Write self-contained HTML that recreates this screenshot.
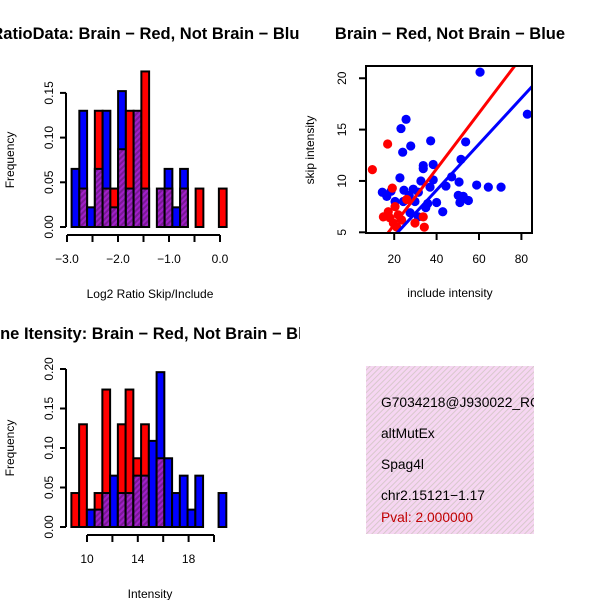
<!DOCTYPE html>
<html><head><meta charset="utf-8"><style>
body{margin:0;background:#fff}
svg{font-family:"Liberation Sans",sans-serif}
</style></head><body>
<svg id="s" width="600" height="600" viewBox="0 0 600 600">
<defs>
<pattern id="ph" width="4" height="4" patternUnits="userSpaceOnUse" patternTransform="rotate(45)">
<rect width="4" height="4" fill="#a020c8"/><rect width="2" height="4" fill="#7a1896"/></pattern>
<pattern id="pk" width="4" height="4" patternUnits="userSpaceOnUse" patternTransform="rotate(45)">
<rect width="4" height="4" fill="#f6d6f2"/><rect width="1" height="4" fill="#d8c8cc"/></pattern>
<clipPath id="leftclip"><rect x="0" y="0" width="300" height="600"/></clipPath>
<clipPath id="infoclip"><rect x="366" y="366" width="168" height="168"/></clipPath>
</defs>
<g id="h1" clip-path="url(#leftclip)"></g>
<g id="h2" clip-path="url(#leftclip)"></g>
<g id="sc"></g>
<g clip-path="url(#infoclip)">
<rect x="366" y="366" width="168" height="168" fill="url(#pk)"/>
<text x="381" y="407" font-size="13.8">G7034218@J930022_RC</text>
<text x="381" y="438" font-size="13.8">altMutEx</text>
<text x="381" y="469" font-size="13.8">Spag4l</text>
<text x="381" y="500" font-size="13.8">chr2.15121−1.17</text>
<text x="381" y="522" font-size="13.8" fill="#c00000">Pval: 2.000000</text>
</g>
</svg>
<script>
// Ratio histogram data
const ratioBinStart = -2.91;
const ratioBinWidth = 0.152;
const ratioBlue = [0.065,0.13,0.022,0.065,0.13,0.022,0.152,0.043,0.13,0.043,0,0.043,0.065,0.022,0.065,0,0,0,0,0];
const ratioRed  = [0,0.043,0,0.13,0.043,0.043,0.087,0.13,0.13,0.174,0,0.043,0.043,0,0.043,0,0.043,0,0,0.043];
const ratioXTicks = [-3.0,-2.5,-2.0,-1.5,-1.0,-0.5,0.0];
const ratioXLabels = ["−3.0","","−2.0","","−1.0","","0.0"];
const ratioYTicks = [0,0.05,0.10,0.15];
const ratioYLabels = ["0.00","0.05","0.10","0.15"];
// Intensity histogram data
const intBinStart = 8.77;
const intBinWidth = 0.61;
const intBlue = [0,0,0.022,0.022,0.043,0.065,0.043,0.043,0.065,0.065,0.109,0.196,0.087,0.043,0.065,0.022,0.065,0,0,0.043];
const intRed  = [0.043,0.13,0,0.043,0.174,0,0.13,0.174,0.087,0.13,0,0.087,0,0,0,0,0,0,0,0];
const intXTicks = [10,12,14,16,18,20];
const intXLabels = ["10","","14","","18",""];
const intYTicks = [0,0.05,0.10,0.15,0.20];
const intYLabels = ["0.00","0.05","0.10","0.15","0.20"];
// Scatter data
const blueX = [60.5,82.8,25.6,23.2,37.2,53.7,27.8,24,51.5,33.7,38.4,33.7,22.7,47.1,32.6,38.4,50.6,58.9,64.4,70.4,44.4,36.9,24.6,29,14.4,18.5,16.5,31.4,27.1,50.2,52.6,55,51,40,35.8,24.3,29.8,34.9,42.9,27.5,31.4,20.4];
const blueY = [20.6,16.5,16.0,15.1,13.9,13.8,13.4,12.8,12.1,11.5,11.6,11.2,10.3,10.4,10.0,10.1,9.9,9.6,9.4,9.4,9.5,9.4,9.1,9.2,8.9,9.0,8.5,8.9,8.6,8.6,8.5,8.1,7.9,7.9,7.8,8.0,8.0,7.4,7.0,6.9,6.5,8.0];
const redX = [9.7,16.9,19.1,14.9,20.4,18,21.9,23.5,19.6,29.8,33.7,34.2,25.9,17.2,21.2];
const redY = [11.1,13.6,9.3,6.5,7.5,6.4,6.7,6.2,5.9,5.9,6.5,5.5,8.2,7.0,5.5];
const redFit = [0.3,0.272];
const blueFit = [0.15,0.224];
const scXTicks = [20,40,60,80];
const scYTicks = [5,10,15,20];

const NS="http://www.w3.org/2000/svg";
function mk(p,tag,a){const e=document.createElementNS(NS,tag);for(const k in a)e.setAttribute(k,a[k]);p.appendChild(e);return e;}

function hist(g,o){
  const sx=v=>o.x0+(v-o.v0)*o.kx, sy=v=>o.y0-v*o.ky;
  for(let i=0;i<o.blue.length;i++){
    const l=o.start+i*o.w, b=o.blue[i], r=o.red[i];
    const mx=Math.max(b,r), mn=Math.min(b,r);
    if(mx<=0)continue;
    const x=sx(l), wpx=o.w*o.kx;
    const c=b>r?"#0000ff":(r>b?"#ff0000":"url(#ph)");
    const e1=mk(g,"rect",{x:x,y:sy(mx),width:wpx,height:sy(0)-sy(mx),fill:c,stroke:"#000","stroke-width":2});
    
    
    if(mn>0&&b!==r){
      const e2=mk(g,"rect",{x:x,y:sy(mn),width:wpx,height:sy(0)-sy(mn),fill:"url(#ph)",stroke:"#000","stroke-width":2});
      
      
    }
  }
  const ya=mk(g,"line",{x1:o.yax,x2:o.yax,y1:sy(o.yt[0]),y2:sy(o.yt[o.yt.length-1]),stroke:"#000","stroke-width":2});
  
  
  o.yt.forEach((v,i)=>{
    mk(g,"line",{x1:o.yax-6,x2:o.yax,y1:sy(v),y2:sy(v),stroke:"#000","stroke-width":2});
    const t=mk(g,"text",{x:0,y:0,"font-size":12,"text-anchor":"middle",transform:`translate(${o.yax-13},${sy(v)}) rotate(-90)`});
    t.textContent=o.yl[i];
    
    
  });
  const xa=mk(g,"line",{x1:sx(o.xt[0]),x2:sx(o.xt[o.xt.length-1]),y1:o.xay,y2:o.xay,stroke:"#000","stroke-width":2});
  
  
  o.xt.forEach((v,i)=>{
    mk(g,"line",{x1:sx(v),x2:sx(v),y1:o.xay,y2:o.xay+7,stroke:"#000","stroke-width":2});
    const t=mk(g,"text",{x:sx(v),y:o.xay+28,"font-size":12,"text-anchor":"middle"});
    t.textContent=o.xl[i];
    
    
  });
  const ti=mk(g,"text",{x:150,y:o.ty,"font-size":16.5,"font-weight":"bold","text-anchor":"middle"});
  ti.textContent=o.title;
  
  
  const xl=mk(g,"text",{x:150,y:o.xay+63,"font-size":12,"text-anchor":"middle"});
  xl.textContent=o.xlab;
  
  
  const yl=mk(g,"text",{x:0,y:0,"font-size":12,"text-anchor":"middle",transform:`translate(14,${(sy(0)+sy(o.yt[o.yt.length-1]))/2}) rotate(-90)`});
  yl.textContent="Frequency";
  
  
}
hist(document.getElementById("h1"),{blue:ratioBlue,red:ratioRed,start:ratioBinStart,w:ratioBinWidth,
  x0:67,v0:-3,kx:51,y0:227,ky:894,yax:66,xay:235,xt:ratioXTicks,xl:ratioXLabels,yt:ratioYTicks,yl:ratioYLabels,
  ty:39,title:"RatioData: Brain − Red, Not Brain − Blue",xlab:"Log2 Ratio Skip/Include"});
hist(document.getElementById("h2"),{blue:intBlue,red:intRed,start:intBinStart,w:intBinWidth,
  x0:87,v0:10,kx:12.7,y0:527,ky:790,yax:66,xay:535,xt:intXTicks,xl:intXLabels,yt:intYTicks,yl:intYLabels,
  ty:339,title:"Gene Itensity: Brain − Red, Not Brain − Blue",xlab:"Intensity"});

(function(){
  const g=document.getElementById("sc");
  const sx=v=>351.8+v*2.12, sy=v=>232.3-(v-5)*10.27;
  const L=366,R=532,T=66,B=233;
  const cp=mk(g,"clipPath",{id:"scclip"});mk(cp,"rect",{x:L,y:T,width:R-L,height:B-T});
  const pg=mk(g,"g",{"clip-path":"url(#scclip)"});
  blueX.forEach((v,i)=>{const c=mk(pg,"circle",{cx:sx(v),cy:sy(blueY[i]),r:4.6,fill:"#0000ff"});
    
    });
  redX.forEach((v,i)=>{const c=mk(pg,"circle",{cx:sx(v),cy:sy(redY[i]),r:4.6,fill:"#ff0000"});
    
    });
  [[redFit,"#ff0000","red-fit-line"],[blueFit,"#0000ff","blue-fit-line"]].forEach(([f,c,n])=>{
    const l=mk(pg,"line",{x1:sx(0),y1:sy(f[0]),x2:sx(100),y2:sy(f[0]+f[1]*100),stroke:c,"stroke-width":3});
    
    });
  const bx=mk(g,"rect",{x:L,y:T,width:R-L,height:B-T,fill:"none",stroke:"#000","stroke-width":2});
  
  
  scXTicks.forEach(v=>{mk(g,"line",{x1:sx(v),x2:sx(v),y1:B,y2:B+7,stroke:"#000","stroke-width":2});
    const t=mk(g,"text",{x:sx(v),y:263,"font-size":12,"text-anchor":"middle"});t.textContent=v;
    
    });
  scYTicks.forEach(v=>{mk(g,"line",{x1:L-7,x2:L,y1:sy(v),y2:sy(v),stroke:"#000","stroke-width":2});
    const t=mk(g,"text",{x:0,y:0,"font-size":12,"text-anchor":"middle",transform:`translate(346,${sy(v)}) rotate(-90)`});t.textContent=v;
    
    });
  const ti=mk(g,"text",{x:450,y:39,"font-size":16.5,"font-weight":"bold","text-anchor":"middle"});ti.textContent="Brain − Red, Not Brain − Blue";
  
  
  const xl=mk(g,"text",{x:450,y:297,"font-size":12,"text-anchor":"middle"});xl.textContent="include intensity";
  
  
  const yl=mk(g,"text",{x:0,y:0,"font-size":12,"text-anchor":"middle",transform:"translate(314,150) rotate(-90)"});yl.textContent="skip intensity";
  
  
})();
</script>
</body></html>
